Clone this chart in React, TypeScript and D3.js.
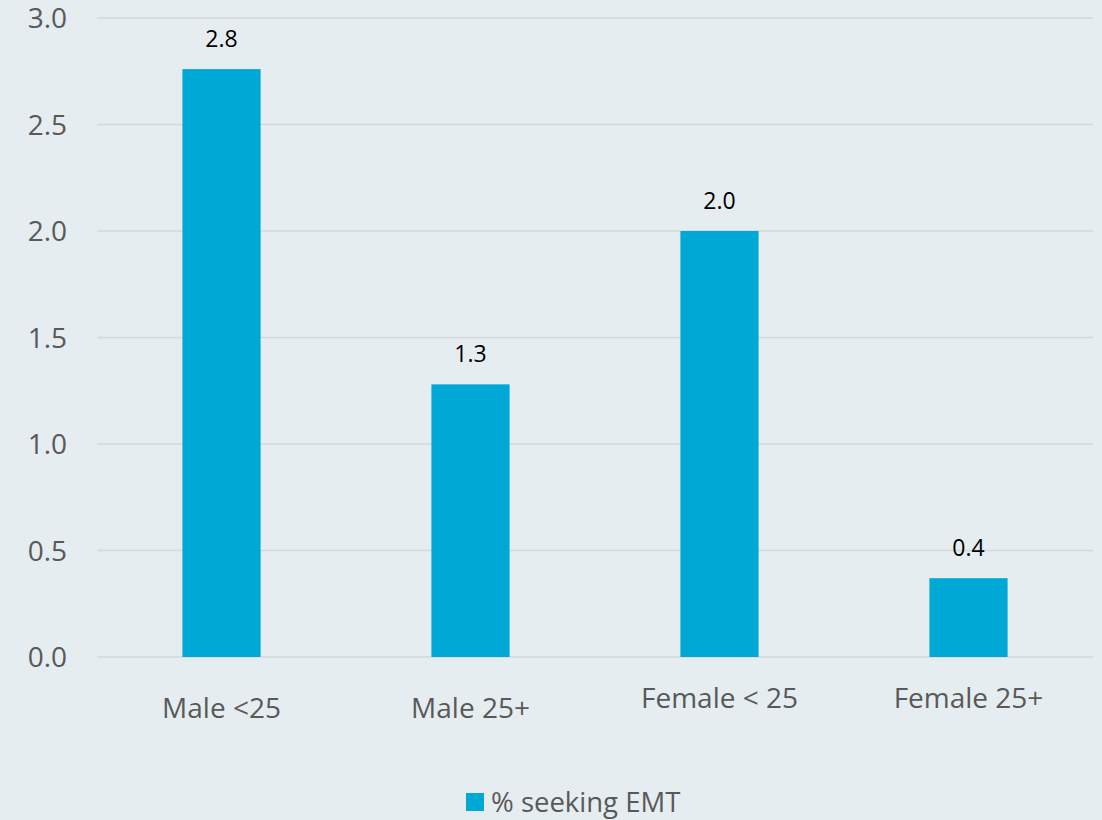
import React from "react";
import * as d3 from "d3";

const categories = ["Male <25", "Male 25+", "Female < 25", "Female 25+"];
const values = [2.76, 1.28, 2.0, 0.37];
const valueLabels = ["2.8", "1.3", "2.0", "0.4"];
const yTicks = [0, 0.5, 1.0, 1.5, 2.0, 2.5, 3.0];
const seriesName = "% seeking EMT";

const W = 1102;
const H = 820;
const FONT = "'Open Sans', 'DejaVu Sans', sans-serif";
const BAR = "#00a8d6";
const BG = "#e6edf0";
const GRID = "#d3d8da";
const TXT = "#595959";

export default function App() {
  const x = d3
    .scaleBand<string>()
    .domain(categories)
    .range([97, 1093])
    .paddingInner(0.686)
    .paddingOuter(0.343);
  const y = d3.scaleLinear().domain([0, 3]).range([657, 18]);

  return (
    <div style={{ position: "absolute", left: 0, top: 0, width: W, height: H }}>
      <svg width={W} height={H} style={{ display: "block" }}>
        <rect x={0} y={0} width={W} height={H} fill={BG} />
        {yTicks.map((t) => (
          <g key={t}>
            <line x1={97} x2={1093} y1={y(t)} y2={y(t)} stroke={GRID} strokeWidth={1.5} />
            <text
              x={67}
              y={y(t)}
              dy="0.36em"
              textAnchor="end"
              fontFamily={FONT}
              fontSize={28}
              fill={TXT}
            >
              {d3.format(".1f")(t)}
            </text>
          </g>
        ))}
        {categories.map((c, i) => (
          <g key={c}>
            <rect
              x={x(c)}
              y={y(values[i])}
              width={x.bandwidth()}
              height={y(0) - y(values[i])}
              fill={BAR}
            />
            <text
              x={(x(c) as number) + x.bandwidth() / 2}
              y={y(values[i]) - 22}
              textAnchor="middle"
              fontFamily={FONT}
              fontSize={23}
              fill="#000"
            >
              {valueLabels[i]}
            </text>
            <text
              x={(x(c) as number) + x.bandwidth() / 2}
              y={i < 2 ? 718 : 708}
              textAnchor="middle"
              fontFamily={FONT}
              fontSize={28}
              fill={TXT}
            >
              {c}
            </text>
          </g>
        ))}
        <g>
          <rect x={466} y={793} width={18} height={18} fill={BAR} />
          <text x={491} y={812} fontFamily={FONT} fontSize={27.5} fill={TXT}>
            {seriesName}
          </text>
        </g>
      </svg>
    </div>
  );
}
